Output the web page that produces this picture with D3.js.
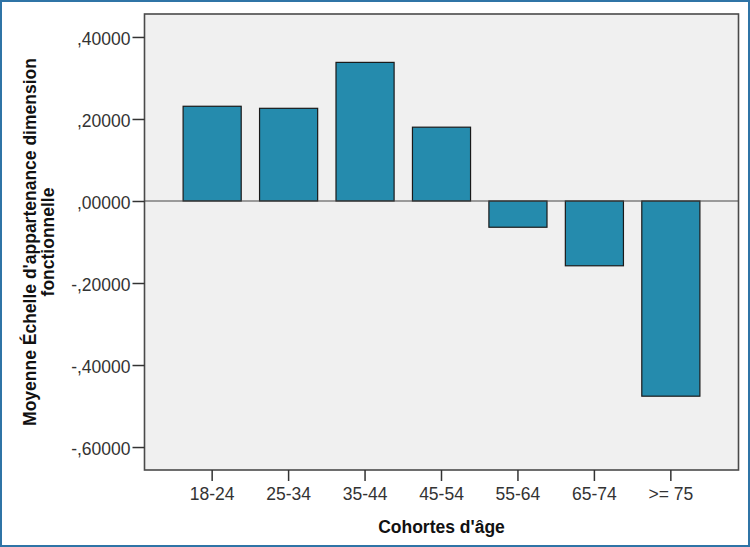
<!DOCTYPE html>
<meta charset="utf-8">
<style>
  body { margin: 0; background: #fff; }
  .tick text { font: 17.5px "Liberation Sans", Arial, sans-serif; fill: #333; }
  .tick line { stroke: #333; stroke-width: 1.5; }
  .title { font: bold 17.5px "Liberation Sans", Arial, sans-serif; fill: #111; }
</style>
<body>
<script src="https://d3js.org/d3.v7.min.js"></script>
<script>
var categories = ["18-24", "25-34", "35-44", "45-54", "55-64", "65-74", ">= 75"];
var values = [0.231, 0.226, 0.338, 0.180, -0.064, -0.158, -0.476];
var yTicks = [0.4, 0.2, 0, -0.2, -0.4, -0.6];

var W = 750, H = 547;
var margin = {top: 14, right: 11.5, bottom: 77, left: 144.5},
    width = W - margin.left - margin.right,
    height = H - margin.top - margin.bottom;

var svg = d3.select("body").append("svg")
    .attr("width", W)
    .attr("height", H);

// outer blue frame
svg.append("rect")
    .attr("x", 1).attr("y", 1)
    .attr("width", W - 2).attr("height", H - 2)
    .attr("fill", "none")
    .attr("stroke", "#2f74a6")
    .attr("stroke-width", 2);

var g = svg.append("g")
    .attr("transform", "translate(" + margin.left + "," + margin.top + ")");

var x = d3.scaleBand()
    .domain(categories)
    .range([0, width])
    .paddingInner(0.24)
    .paddingOuter(0.505);

var y = d3.scaleLinear()
    .domain([-0.656, 0.456])
    .range([height, 0]);

// plot background
g.append("rect")
    .attr("width", width)
    .attr("height", height)
    .attr("fill", "#f0f0f0");

// bars
g.selectAll(".bar")
    .data(values)
    .enter().append("rect")
    .attr("class", "bar")
    .attr("x", function(d, i) { return x(categories[i]); })
    .attr("width", x.bandwidth())
    .attr("y", function(d) { return Math.min(y(d), y(0)); })
    .attr("height", function(d) { return Math.abs(y(d) - y(0)); })
    .attr("fill", "#258bad")
    .attr("stroke", "#1a1a1a")
    .attr("stroke-width", 1.2);

// zero reference line
g.append("line")
    .attr("x1", 0).attr("x2", width)
    .attr("y1", y(0)).attr("y2", y(0))
    .attr("stroke", "#444")
    .attr("stroke-width", 1.2);

// plot frame
g.append("rect")
    .attr("width", width)
    .attr("height", height)
    .attr("fill", "none")
    .attr("stroke", "#4a4a4a")
    .attr("stroke-width", 1.6);

// SPSS style: ",40000" and "-,20000"
var locale = d3.formatLocale({decimal: ",", thousands: ".", grouping: [3], currency: ["", ""], minus: "-"});
var fmt = function(d) {
  return locale.format(".5f")(d).replace(/^(-?)0,/, "$1,");
};

// y axis
var yAxis = g.append("g")
    .call(d3.axisLeft(y).tickValues(yTicks).tickFormat(fmt).tickSize(12).tickPadding(2));
yAxis.select(".domain").remove();
yAxis.selectAll("text").attr("dy", "0.42em");

// x axis
var xAxis = g.append("g")
    .attr("transform", "translate(0," + height + ")")
    .call(d3.axisBottom(x).tickSize(11).tickPadding(7));
xAxis.select(".domain").remove();

// axis titles
svg.append("text")
    .attr("class", "title")
    .attr("x", margin.left + width / 2)
    .attr("y", 533)
    .attr("text-anchor", "middle")
    .text("Cohortes d'âge");

var yt = svg.append("text")
    .attr("class", "title")
    .attr("transform", "translate(36," + (margin.top + height / 2) + ") rotate(-90)")
    .attr("text-anchor", "middle");
yt.append("tspan").attr("x", 0).attr("y", 0).text("Moyenne Échelle d'appartenance dimension");
yt.append("tspan").attr("x", 0).attr("y", 18).text("fonctionnelle");
</script>
</body>
